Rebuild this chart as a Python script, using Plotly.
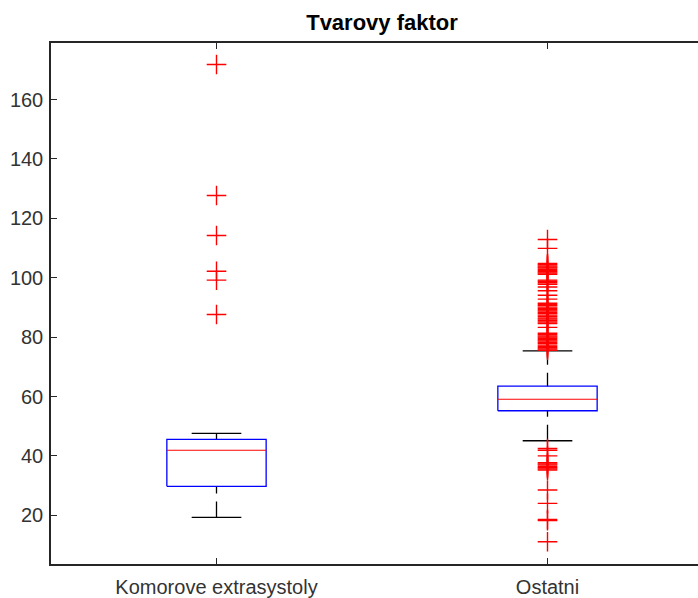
import plotly.graph_objects as go

categories = ["Komorove extrasystoly", "Ostatni"]
positions = [1, 2]
q1 = [29.75, 55.2]
median = [41.9, 59.1]
q3 = [45.6, 63.5]
lower_whisker = [19.3, 45.1]
upper_whisker = [47.6, 75.4]

outliers_1 = [171.8, 127.7, 114.2, 102.2, 99.2, 87.6]
outliers_2 = [
    112.9, 109.9,
    104.8, 104.4, 104.0, 103.6, 103.3,
    102.8, 102.4, 102.0, 101.6, 101.2,
    99.2, 98.8, 98.3, 97.8,
    96.9, 95.6, 94.1, 92.8,
    91.4, 91.0, 90.6, 90.1, 89.7, 89.2, 88.8, 88.3, 87.9, 87.4, 87.0, 86.5, 86.1, 85.6, 85.1, 84.6,
    83.3,
    81.3, 80.9, 80.4, 80.0, 79.6, 79.1, 78.7, 78.2, 77.8, 77.3, 76.9, 76.4, 76.0, 75.6,
    42.5, 41.9, 40.0,
    37.7, 37.3, 36.9, 36.4, 36.0, 35.6, 35.2,
    28.5, 24.0, 18.6, 18.2, 11.1,
]
outliers = [outliers_1, outliers_2]

box_half = 0.15
cap_half = 0.075

fig = go.Figure()
for i, c in enumerate(positions):
    # whiskers (dashed), drawn from cap toward box
    fig.add_trace(go.Scatter(x=[c, c], y=[upper_whisker[i], q3[i]], mode="lines",
                             line=dict(color="black", width=1.3, dash="14px,8px"),
                             hoverinfo="skip", showlegend=False))
    fig.add_trace(go.Scatter(x=[c, c], y=[lower_whisker[i], q1[i]], mode="lines",
                             line=dict(color="black", width=1.3, dash="16px,8px"),
                             hoverinfo="skip", showlegend=False))
    # caps
    for w in (upper_whisker[i], lower_whisker[i]):
        fig.add_trace(go.Scatter(x=[c - cap_half, c + cap_half], y=[w, w], mode="lines",
                                 line=dict(color="black", width=1.3),
                                 hoverinfo="skip", showlegend=False))
    # box
    fig.add_trace(go.Scatter(x=[c - box_half, c + box_half, c + box_half, c - box_half, c - box_half],
                             y=[q1[i], q1[i], q3[i], q3[i], q1[i]], mode="lines",
                             line=dict(color="#0000ff", width=1.3),
                             hoverinfo="skip", showlegend=False))
    # median
    fig.add_trace(go.Scatter(x=[c - box_half, c + box_half], y=[median[i], median[i]], mode="lines",
                             line=dict(color="#ff0000", width=1.1),
                             hoverinfo="skip", showlegend=False))
    # outliers
    fig.add_trace(go.Scatter(x=[c] * len(outliers[i]), y=outliers[i], mode="markers",
                             marker=dict(symbol="cross-thin", size=14,
                                         line=dict(color="#ff0000", width=1.4)),
                             showlegend=False))

W, H = 698, 598
ml, mt, mb = 51, 43, 34
plot_w = W - ml
x_unit_px = 331.0
x_max = 0.5 + plot_w / x_unit_px

fig.update_layout(
    width=W, height=H,
    margin=dict(l=ml, r=0, t=mt, b=mb, pad=0),
    paper_bgcolor="white", plot_bgcolor="white",
    font=dict(family="Liberation Sans, Arial, sans-serif", size=20, color="#333333"),
    title=dict(text="<b>Tvarovy faktor</b>", font=dict(size=22, color="black"),
               x=382 / W, xref="container", xanchor="center",
               y=1 - 22 / H, yref="container", yanchor="middle"),
    xaxis=dict(range=[0.5, x_max], tickvals=positions, ticktext=categories,
               ticks="inside", ticklen=6, tickcolor="#262626", tickwidth=1,
               showline=True, linecolor="#262626", linewidth=1.5, mirror="ticks",
               showgrid=False, zeroline=False, ticklabelstandoff=4),
    yaxis=dict(range=[3.6, 179.05], tickvals=[20, 40, 60, 80, 100, 120, 140, 160],
               ticks="inside", ticklen=6, tickcolor="#262626", tickwidth=1,
               showline=True, linecolor="#262626", linewidth=1.5, mirror=False,
               showgrid=False, zeroline=False, ticklabelstandoff=2),
)

fig.write_html("out.html")
